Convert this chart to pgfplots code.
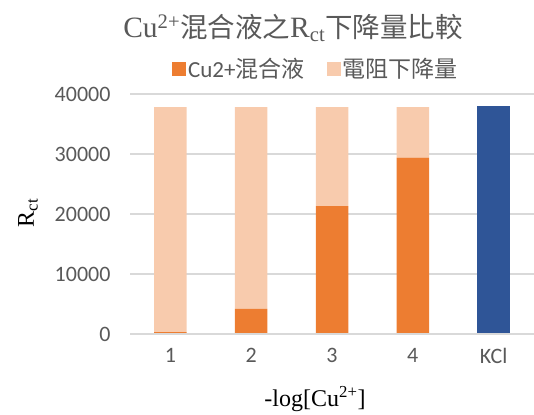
\documentclass[border=0pt]{standalone}
\usepackage{fontspec}
\setmainfont{Liberation Serif}
\newfontfamily\cjk{Noto Sans CJK TC}
\newfontfamily\carlito{Carlito}
\usepackage{pgfplots}
\pgfplotsset{compat=1.18}
\definecolor{orangeC}{HTML}{ED7D31}
\definecolor{peachC}{HTML}{F8CBAD}
\definecolor{blueC}{HTML}{2F5597}
\definecolor{gridC}{HTML}{D9D9D9}
\definecolor{txtC}{HTML}{595959}
\begin{document}
\begin{tikzpicture}[x=1pt,y=1pt]
\path[use as bounding box] (0,0) rectangle (534,414);
\begin{axis}[
  at={(130pt,80pt)}, anchor=south west,
  scale only axis, width=404pt, height=240pt,
  ybar stacked, bar width=32.5pt,
  xmin=-0.5, xmax=4.5, ymin=0, ymax=40000,
  xtick=data, xticklabels={1,2,3,4,KCl},
  ytick={0,10000,20000,30000,40000},
  scaled y ticks=false,
  /pgf/number format/assume math mode=true,
  yticklabel style={/pgf/number format/fixed, /pgf/number format/1000 sep={}},
  ticklabel style={font=\carlito\fontsize{22}{22}\selectfont, text=txtC},
  xticklabel style={yshift=-11pt},
  yticklabel style={xshift=-16pt},
  major tick length=0pt,
  axis line style={draw=none},
  axis x line*=bottom,
  ymajorgrids, grid style={gridC, line width=1.2pt},
  legend columns=2,
  legend style={draw=none, fill=none, at={(0.46,1.104)}, anchor=center,
    font=\carlito\fontsize{23}{23}\selectfont, text=txtC,
    /tikz/every even column/.append style={column sep=20pt}},
  legend image code/.code={\fill[#1] (0pt,-7pt) rectangle (14pt,7pt);},
  clip=false,
]
\addplot[fill=orangeC, draw=none] coordinates {(0,300) (1,4200) (2,21300) (3,29400) (4,0)};
\addlegendentry{Cu2+{\cjk 混合液}}
\addplot[fill=peachC, draw=none] coordinates {(0,37500) (1,33600) (2,16500) (3,8400) (4,0)};
\addlegendentry{{\cjk 電阻下降量}}
\addplot[fill=blueC, draw=none, forget plot] coordinates {(0,0) (1,0) (2,0) (3,0) (4,38000)};
\end{axis}
\draw[gridC, line width=1.2pt] (130,80) -- (534,80);
\node[text=txtC, font=\fontsize{29.5}{29.5}\selectfont] at (293,386) {Cu\textsuperscript{2+}{\cjk\fontsize{27.5}{27.5}\selectfont 混合液之}R\textsubscript{ct}{\cjk\fontsize{27.5}{27.5}\selectfont 下降量比較}};
\node[rotate=90, font=\fontsize{24}{24}\selectfont] at (28,201) {R\textsubscript{ct}};
\node[font=\fontsize{24}{24}\selectfont] at (315,15) {-log[Cu\textsuperscript{2+}]};
\end{tikzpicture}
\end{document}
